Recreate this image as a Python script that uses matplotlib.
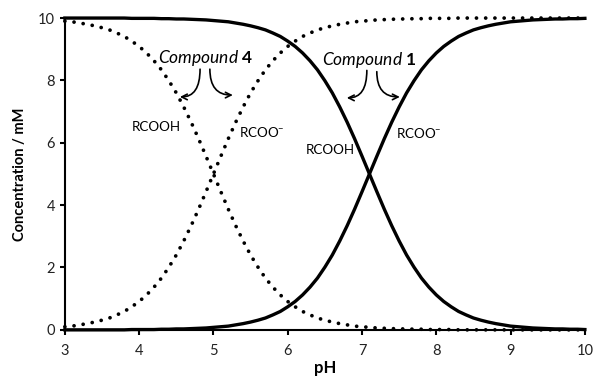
import numpy as np
import matplotlib
matplotlib.use("Agg")
import matplotlib.pyplot as plt

plt.rcParams['font.family'] = ['Lato', 'DejaVu Sans']
plt.rcParams['mathtext.fontset'] = 'custom'
plt.rcParams['mathtext.rm'] = 'Lato'
plt.rcParams['mathtext.it'] = 'Lato:italic'
plt.rcParams['mathtext.bf'] = 'Lato:bold'

# pH grid (3.0 .. 10.0, step 0.1)
ph = np.linspace(3.0, 10.0, 71)

# Compound 4 (dotted)
rcooh_4 = [9.90, 9.88, 9.84, 9.80, 9.75, 9.69, 9.62, 9.52, 9.41, 9.26,
           9.09, 8.88, 8.63, 8.34, 7.99, 7.60, 7.15, 6.66, 6.13, 5.57,
           5.00, 4.43, 3.87, 3.34, 2.85, 2.40, 2.01, 1.66, 1.37, 1.12,
           0.91, 0.74, 0.59, 0.48, 0.38, 0.31, 0.25, 0.20, 0.16, 0.12,
           0.10, 0.08, 0.06, 0.05, 0.04, 0.03, 0.03, 0.02, 0.02, 0.01,
           0.01, 0.01, 0.01, 0.00, 0.00, 0.00, 0.00, 0.00, 0.00, 0.00,
           0.00, 0.00, 0.00, 0.00, 0.00, 0.00, 0.00, 0.00, 0.00, 0.00,
           0.00]
rcoo_4 = [0.10, 0.12, 0.16, 0.20, 0.25, 0.31, 0.38, 0.48, 0.59, 0.74,
          0.91, 1.12, 1.37, 1.66, 2.01, 2.40, 2.85, 3.34, 3.87, 4.43,
          5.00, 5.57, 6.13, 6.66, 7.15, 7.60, 7.99, 8.34, 8.63, 8.88,
          9.09, 9.26, 9.41, 9.52, 9.62, 9.69, 9.75, 9.80, 9.84, 9.88,
          9.90, 9.92, 9.94, 9.95, 9.96, 9.97, 9.97, 9.98, 9.98, 9.99,
          9.99, 9.99, 9.99, 10.0, 10.0, 10.0, 10.0, 10.0, 10.0, 10.0,
          10.0, 10.0, 10.0, 10.0, 10.0, 10.0, 10.0, 10.0, 10.0, 10.0,
          10.0]

# Compound 1 (solid)
rcooh_1 = [10.0, 10.0, 10.0, 10.0, 10.0, 10.0, 10.0, 10.0, 10.0, 9.99,
           9.99, 9.99, 9.99, 9.98, 9.98, 9.97, 9.97, 9.96, 9.95, 9.94,
           9.92, 9.90, 9.88, 9.84, 9.80, 9.75, 9.69, 9.62, 9.52, 9.41,
           9.26, 9.09, 8.88, 8.63, 8.34, 7.99, 7.60, 7.15, 6.66, 6.13,
           5.57, 5.00, 4.43, 3.87, 3.34, 2.85, 2.40, 2.01, 1.66, 1.37,
           1.12, 0.91, 0.74, 0.59, 0.48, 0.38, 0.31, 0.25, 0.20, 0.16,
           0.12, 0.10, 0.08, 0.06, 0.05, 0.04, 0.03, 0.03, 0.02, 0.02,
           0.01]
rcoo_1 = [0.00, 0.00, 0.00, 0.00, 0.00, 0.00, 0.00, 0.00, 0.00, 0.01,
          0.01, 0.01, 0.01, 0.02, 0.02, 0.03, 0.03, 0.04, 0.05, 0.06,
          0.08, 0.10, 0.12, 0.16, 0.20, 0.25, 0.31, 0.38, 0.48, 0.59,
          0.74, 0.91, 1.12, 1.37, 1.66, 2.01, 2.40, 2.85, 3.34, 3.87,
          4.43, 5.00, 5.57, 6.13, 6.66, 7.15, 7.60, 7.99, 8.34, 8.63,
          8.88, 9.09, 9.26, 9.41, 9.52, 9.62, 9.69, 9.75, 9.80, 9.84,
          9.88, 9.90, 9.92, 9.94, 9.95, 9.96, 9.97, 9.97, 9.98, 9.98,
          9.99]

x_ticks = [3, 4, 5, 6, 7, 8, 9, 10]
y_ticks = [0, 2, 4, 6, 8, 10]

fig = plt.figure(figsize=(5.95, 3.84), dpi=100)
ax = fig.add_axes([0.109, 0.141, 0.874, 0.812])

dot_style = dict(color='black', lw=2.7, linestyle=(0, (0.01, 2.45)),
                 dash_capstyle='round')
ax.plot(ph, rcooh_4, **dot_style, clip_on=False)
ax.plot(ph, rcoo_4, **dot_style, clip_on=False)
ax.plot(ph, rcooh_1, color='black', lw=2.4, clip_on=False)
ax.plot(ph, rcoo_1, color='black', lw=2.4, clip_on=False)

ax.set_xlim(3, 10)
ax.set_ylim(0, 10)
ax.set_xticks(x_ticks)
ax.set_yticks(y_ticks)
for s in ['top', 'right']:
    ax.spines[s].set_visible(False)
for s in ['left', 'bottom']:
    ax.spines[s].set_linewidth(1.5)
ax.tick_params(axis='both', direction='out', length=3.5, width=1.5,
               labelsize=10.5, color='black', labelcolor='#222222')
ax.tick_params(axis='x', pad=7)
ax.set_xlabel('pH', fontsize=12, fontweight='bold', labelpad=1)
ax.set_ylabel('Concentration / mM', fontsize=10.5, fontweight='bold', labelpad=8)

# Compound labels
ax.text(4.9, 8.72, r'$\mathit{Compound}\ \mathbf{4}$', fontsize=12.5,
        ha='center', va='center')
ax.text(7.1, 8.65, r'$\mathit{Compound}\ \mathbf{1}$', fontsize=12.5,
        ha='center', va='center')

arrow_kw = dict(arrowstyle='->', lw=1.2, color='black',
                connectionstyle='angle3,angleA=90,angleB=0',
                shrinkA=0, shrinkB=0, mutation_scale=10)
ax.annotate('', xy=(4.548, 7.47), xytext=(4.82, 8.36), arrowprops=arrow_kw)
ax.annotate('', xy=(5.261, 7.53), xytext=(4.952, 8.36), arrowprops=arrow_kw)
ax.annotate('', xy=(6.795, 7.44), xytext=(7.065, 8.32), arrowprops=arrow_kw)
ax.annotate('', xy=(7.509, 7.47), xytext=(7.199, 8.28), arrowprops=arrow_kw)

ax.text(4.23, 6.51, 'RCOOH', fontsize=9.6, ha='center', va='center')
ax.text(5.65, 6.35, r'RCOO$^{-}$', fontsize=9.6, ha='center', va='center')
ax.text(6.57, 5.77, 'RCOOH', fontsize=9.6, ha='center', va='center')
ax.text(7.76, 6.31, r'RCOO$^{-}$', fontsize=9.6, ha='center', va='center')

fig.savefig('out.png', dpi=100)
